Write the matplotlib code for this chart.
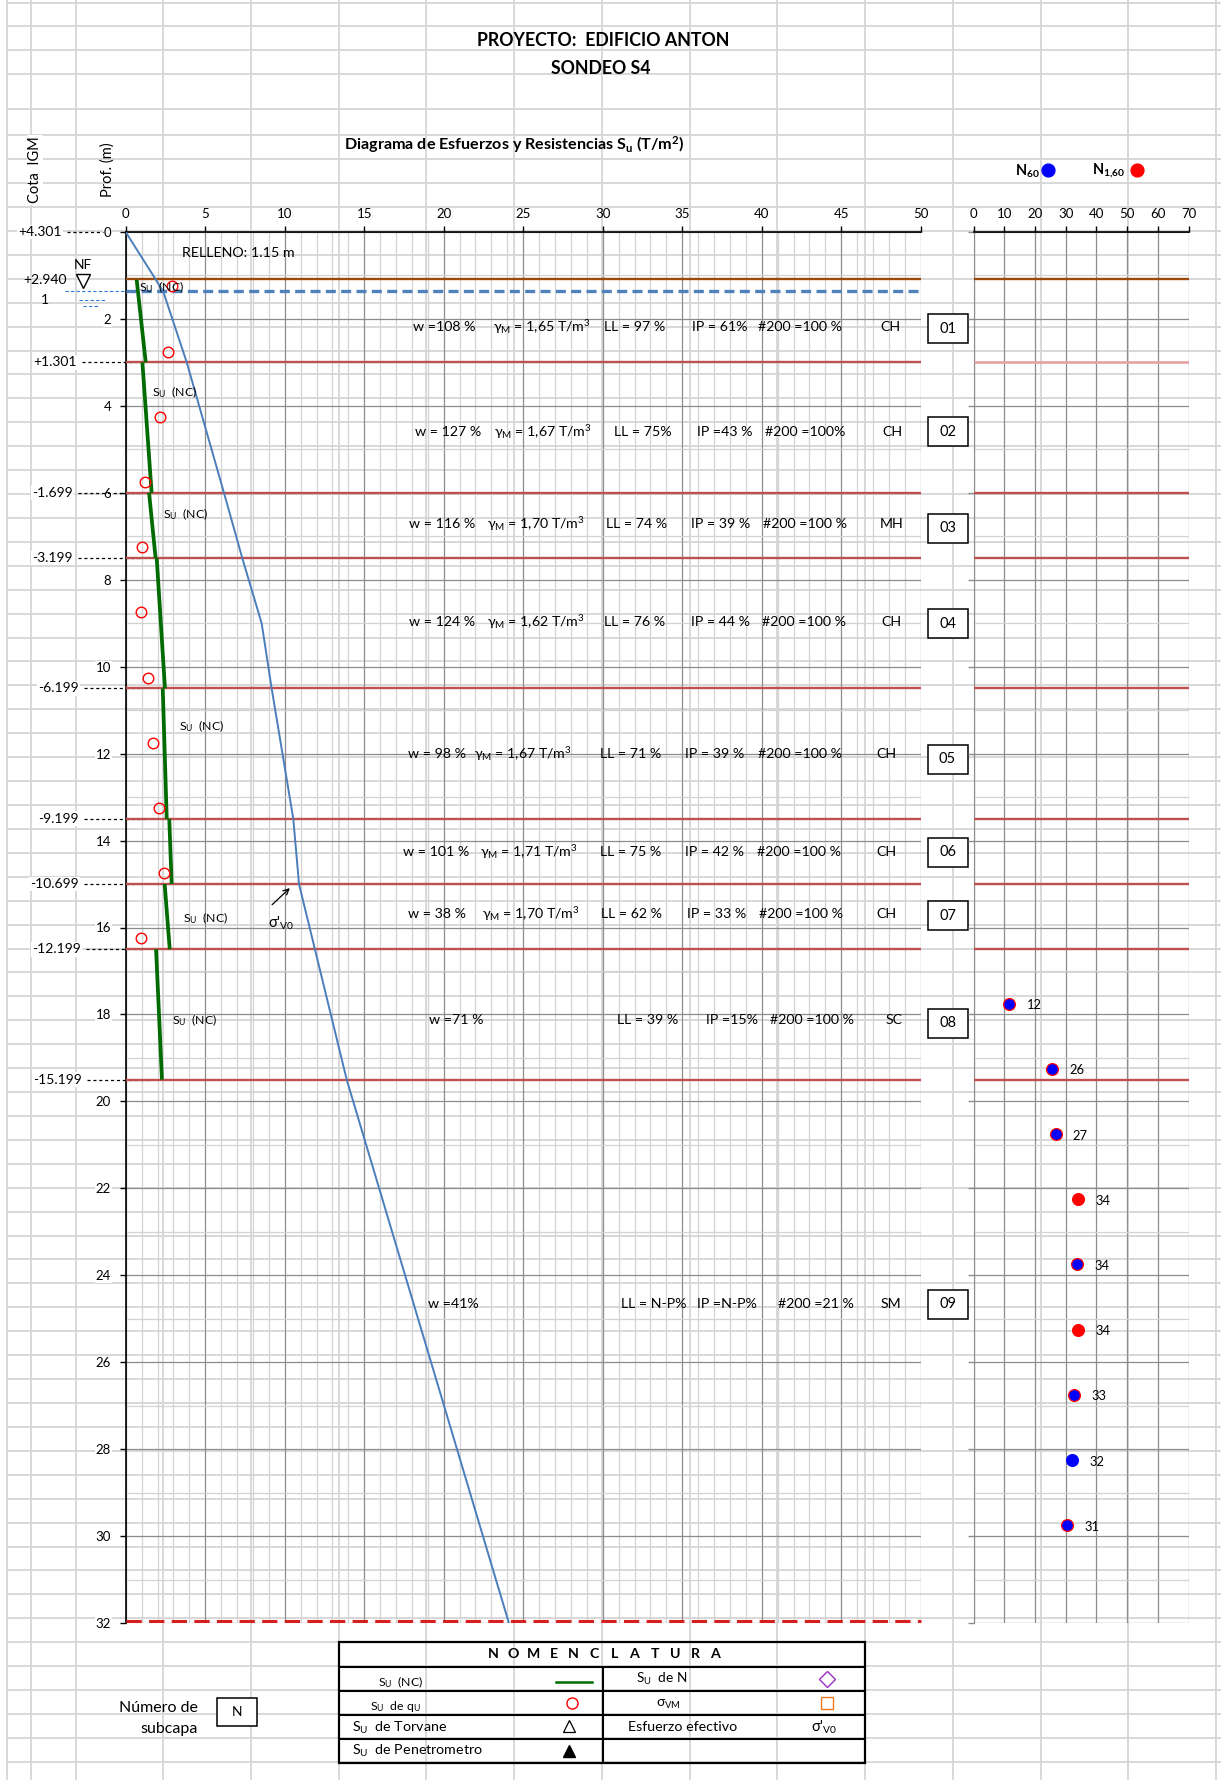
"""Sondeo S4 — diagrama de esfuerzos y resistencias Su + N SPT."""

import numpy as np
import matplotlib.pyplot as plt
import matplotlib.transforms as mtransforms
from matplotlib.patches import Rectangle

plt.rcParams['font.family'] = ['Lato', 'DejaVu Sans']
plt.rcParams['mathtext.fontset'] = 'custom'
plt.rcParams['mathtext.rm'] = 'Lato'
plt.rcParams['mathtext.it'] = 'Lato:italic'
plt.rcParams['mathtext.bf'] = 'Lato:bold'

# ---------------- data ----------------
COTA_TOP = 4.301          # cota IGM at depth 0
NF_DEPTH = 1.361          # nivel freatico
RELLENO_DEPTH = 1.07
END_DEPTH = 32.0

layer_bounds = [3.0, 6.0, 7.5, 10.5, 13.5, 15.0, 16.5, 19.5]
layer_ids = ['01', '02', '03', '04', '05', '06', '07', '08', '09']
layer_mid = [2.23, 4.59, 6.82, 9.01, 12.13, 14.27, 15.73, 18.2, 24.67]

# Su (NC) per layer: value at top and bottom of the layer (T/m2)
su_top_depth = [1.1, 3.0, 6.0, 7.5, 10.5, 13.5, 15.0, 16.5]
su_bot_depth = [3.0, 6.0, 7.5, 10.5, 13.5, 15.0, 16.5, 19.5]
su_top = [0.69, 1.05, 1.47, 1.95, 2.33, 2.74, 2.45, 1.91]
su_bot = [1.26, 1.63, 1.88, 2.47, 2.58, 2.89, 2.77, 2.28]

# Su from qu
qu_depth = [1.25, 2.75, 4.25, 5.75, 7.25, 8.75, 10.25, 11.75, 13.25, 14.75, 16.25]
qu_su = [2.93, 2.64, 2.16, 1.23, 1.05, 0.98, 1.38, 1.72, 2.07, 2.41, 0.98]

# effective vertical stress sigma'v0
sv_depth = [0, 1.07, 1.38, 3.0, 6.0, 7.5, 9.0, 10.5, 13.5, 15.0, 16.5, 19.5, 32.0]
sv_val = [0, 1.85, 2.37, 3.84, 6.18, 7.33, 8.55, 9.18, 10.54, 10.9, 11.9, 13.9, 24.1]

# SPT
spt_depth = [17.75, 19.25, 20.75, 22.25, 23.75, 25.25, 26.75, 28.25, 29.75]
spt_n = [11.7, 25.6, 26.7, 34.1, 33.8, 34.1, 32.7, 32.1, 30.6]
spt_series = ['N60', 'N60', 'N60', 'N160', 'N60', 'N160', 'N60', 'N60', 'N60']

# index properties per layer
prop_w = ['w =108 %', 'w = 127 %', 'w = 116 %', 'w = 124 %', 'w = 98 %',
          'w = 101 %', 'w = 38 %', 'w =71 %', 'w =41%']
prop_gamma = ['1,65', '1,67', '1,70', '1,62', '1,67', '1,71', '1,70', None, None]
prop_ll = ['LL = 97 %', 'LL = 75%', 'LL = 74 %', 'LL = 76 %', 'LL = 71 %',
           'LL = 75 %', 'LL = 62 %', 'LL = 39 %', 'LL = N-P%']
prop_ip = ['IP = 61%', 'IP =43 %', 'IP = 39 %', 'IP = 44 %', 'IP = 39 %',
           'IP = 42 %', 'IP = 33 %', 'IP =15%', 'IP =N-P%']
prop_200 = ['#200 =100 %', '#200 =100%', '#200 =100 %', '#200 =100 %', '#200 =100 %',
            '#200 =100 %', '#200 =100 %', '#200 =100 %', '#200 =21 %']
prop_sucs = ['CH', 'CH', 'MH', 'CH', 'CH', 'CH', 'CH', 'SC', 'SM']
prop_depth = [2.18, 4.6, 6.71, 8.97, 12.0, 14.26, 15.68, 18.13, 24.66]

W, H = 1221, 1780
GRID_SHEET = '#d6d6d6'
GRID_MAJ = '#8c8c8c'
GRID_MIN = '#d3d3d3'
RED_LAYER = '#c0504d'

fig = plt.figure(figsize=(W / 100, H / 100), dpi=100)

# background "spreadsheet" in pixel coordinates
bg = fig.add_axes([0, 0, 1, 1], zorder=0)
bg.set_xlim(0, W)
bg.set_ylim(H, 0)
bg.axis('off')
col_x = [7, 31, 76] + [163 + 87.75 * k for k in range(13)]
row_y = [3, 26, 50, 74, 109, 135, 159, 183] + [207 + 23.92 * k for k in range(66)]
bg.vlines(col_x, 0, H, color=GRID_SHEET, lw=1.3)
bg.hlines(row_y, 7, W, color=GRID_SHEET, lw=1.3)
for x0, y0, x1, y1 in [(252, 27, 951.5, 108), (77, 110, 951.5, 158), (954, 110, W, 158),
                       (77, 184, 951.5, 1640), (77, 192, 1214, 1640), (340, 1643, 864, 1666)]:
    bg.add_patch(Rectangle((x0, y0), x1 - x0, y1 - y0, fc='white', ec='none', zorder=1))

bg.text(603, 41, 'PROYECTO:  EDIFICIO ANTON', ha='center', va='center',
        fontsize=12.8, fontweight='bold', zorder=3)
bg.text(601, 68, 'SONDEO S4', ha='center', va='center', fontsize=12.8,
        fontweight='bold', zorder=3)
bg.text(514, 145, r'Diagrama de Esfuerzos y Resistencias S$_\mathregular{u}$ (T/m$^\mathregular{2}$)',
        ha='center', va='center', fontsize=11.6, fontweight='bold', zorder=3)
bg.text(35, 170, 'Cota  IGM', rotation=90, ha='center', va='center', fontsize=10.5,
        zorder=3, bbox=dict(fc='white', ec='none', pad=1))
bg.text(108, 170, 'Prof. (m)', rotation=90, ha='center', va='center', fontsize=10.5, zorder=3)

# SPT legend
bg.text(1040, 171, r'N$_\mathregular{60}$', ha='right', va='center', fontsize=10.5,
        fontweight='bold', zorder=3)
bg.scatter([1048], [170], s=85, color='#0000ff', zorder=3)
bg.text(1125, 171, r'N$_\mathregular{1{,}60}$', ha='right', va='center', fontsize=10.5,
        fontweight='bold', zorder=3)
bg.scatter([1137], [170], s=85, color='#ff0000', zorder=3)

# ---------------- main diagram ----------------
ax_pos = [125.7 / W, 1 - 1623 / H, 795 / W, (1623 - 232) / H]
ax = fig.add_axes(ax_pos, zorder=2)
ax.patch.set_alpha(0)
ax.set_xlim(0, 50)
ax.set_ylim(END_DEPTH, 0)
ax.xaxis.set_ticks_position('top')
ax.set_xticks(np.arange(0, 51, 5))
ax.set_xticks(np.arange(0, 51, 1), minor=True)
ax.set_yticks(np.arange(0, 33, 2))
ax.set_yticks(np.arange(0, 33, 1), minor=True)
ax.grid(which='major', color=GRID_MAJ, lw=0.9)
ax.grid(which='minor', color=GRID_MIN, lw=0.9)
ax.set_axisbelow(True)
ax.tick_params(which='major', direction='out', length=4.5, width=1, labelsize=9.5)
ax.tick_params(axis='x', pad=4)
ax.tick_params(axis='y', pad=6)
ax.tick_params(which='minor', length=0)
for s in ['right', 'bottom']:
    ax.spines[s].set_visible(False)
for s in ['top', 'left']:
    ax.spines[s].set_linewidth(1.2)
for lbl in ax.get_yticklabels():
    lbl.set_bbox(dict(fc='white', ec='none', pad=0.5))

ax.hlines(layer_bounds, 0, 50, color=RED_LAYER, lw=1.7, zorder=3)
ax.axhline(RELLENO_DEPTH, color='#9c4a0c', lw=1.7, zorder=3)
ax.axhline(NF_DEPTH, color='#4f81bd', lw=2.4, dashes=(3, 1.6), zorder=3)
ax.axhline(END_DEPTH - 0.04, color='#d42020', lw=2.2, dashes=(5, 2.4), zorder=3, clip_on=False)

ax.plot(sv_val, sv_depth, color='#4a7ebb', lw=1.4, zorder=4)
for x0, x1, d0, d1 in zip(su_top, su_bot, su_top_depth, su_bot_depth):
    ax.plot([x0, x1], [d0, d1], color='#006b00', lw=2.7, solid_capstyle='butt', zorder=5)
ax.plot(qu_su, qu_depth, 'o', mfc='none', mec='#ff0000', ms=7.6, mew=1.0, zorder=6)

su_lbl = r'S$_\mathregular{U}$  (NC)'
for x, d in [(0.83, 1.27), (1.63, 3.69), (2.37, 6.49), (3.37, 11.38), (3.58, 15.78), (2.89, 18.13)]:
    ax.text(x, d, su_lbl, fontsize=8.8, va='center', ha='left', zorder=7)
ax.text(3.52, 0.49, 'RELLENO: 1.15 m', fontsize=10.3, va='center', ha='left', zorder=7)
ax.annotate('', xy=(10.45, 15.05), xytext=(9.08, 15.52),
            arrowprops=dict(arrowstyle='->', color='black', lw=0.9), zorder=7)
ax.text(8.95, 15.9, r"σ'$_\mathregular{V0}$", fontsize=10.5, va='center', ha='left', zorder=7)

# property text rows
col_w = [18.09, 18.2, 17.8, 17.8, 17.78, 17.44, 17.76, 19.1, 19.0]
col_g = [23.1, 23.15, 22.74, 22.74, 21.9, 22.3, 22.4, None, None]
col_ll = [30.07, 30.7, 30.2, 30.1, 29.85, 29.8, 29.9, 30.9, 31.15]
col_ip = [35.6, 35.9, 35.56, 35.55, 35.2, 35.2, 35.3, 36.5, 35.9]
col_200 = [39.77, 40.2, 40.1, 40.05, 39.77, 39.7, 39.8, 40.5, 41.0]
col_s = [47.48, 47.6, 47.4, 47.55, 47.2, 47.2, 47.2, 47.8, 47.5]
for i, d in enumerate(prop_depth):
    kw = dict(fontsize=10.2, va='center', ha='left', zorder=7)
    ax.text(col_w[i], d, prop_w[i], **kw)
    if prop_gamma[i] is not None:
        ax.text(col_g[i], d, r'γ$_\mathregular{M}$ = ' + prop_gamma[i] + r' T/m$^\mathregular{3}$', **kw)
    ax.text(col_ll[i], d, prop_ll[i], **kw)
    ax.text(col_ip[i], d, prop_ip[i], **kw)
    ax.text(col_200[i], d, prop_200[i], **kw)
    ax.text(col_s[i], d, prop_sucs[i], **kw)

# sub-layer number boxes (x in sheet pixels, y in depth)
trans = mtransforms.blended_transform_factory(bg.transData, ax.transData)


def depth_px(d):
    return bg.transData.inverted().transform(ax.transData.transform((0, d)))[1]


for lid, d in zip(layer_ids, layer_mid):
    y = depth_px(d)
    bg.add_patch(Rectangle((927.5, y - 14.5), 40, 29, fc='white', ec='black', lw=1.1, zorder=4))
    bg.text(947.5, y, lid, ha='center', va='center', fontsize=10.5, zorder=5)

# cota IGM labels with dashed leaders
cota_depth = [0.0] + layer_bounds
cota_right = [62, 77, 73, 73, 79, 79, 79, 81, 82]
cota_end = [103, 140, 140, 140, 142, 145, 138, 142, 150]
for d, xr, xe in zip(cota_depth, cota_right, cota_end):
    ax.text(xr, d, f'{COTA_TOP - d:+.3f}', transform=trans, ha='right', va='center',
            fontsize=10, zorder=8, bbox=dict(fc='white', ec='none', pad=1))
    ax.plot([xr + 5, xe], [d, d], transform=trans, color='black', lw=0.9,
            dashes=(2.5, 2.2), clip_on=False, zorder=2)

# water table symbol
ax.text(67, NF_DEPTH - 0.26, f'{COTA_TOP - NF_DEPTH:+.3f}', transform=trans, ha='right',
        va='center', fontsize=10, zorder=8)
ax.text(83, NF_DEPTH - 0.6, 'NF', transform=trans, ha='center', va='center', fontsize=10, zorder=8)
ax.plot([83], [NF_DEPTH - 0.24], transform=trans, marker='v', ms=10.5, mfc='white',
        mec='black', mew=1.0, clip_on=False, zorder=8)
ax.text(45, NF_DEPTH + 0.2, '1', transform=trans, ha='center', va='center', fontsize=10, zorder=8)
ax.plot([65, 126], [NF_DEPTH, NF_DEPTH], transform=trans, color='#2e7ad6', lw=0.8,
        dashes=(3, 2), clip_on=False, zorder=3)
ax.plot([79, 106], [NF_DEPTH + 0.2, NF_DEPTH + 0.2], transform=trans, color='#2e7ad6', lw=0.8,
        dashes=(3, 2), clip_on=False, zorder=3)
ax.plot([83, 99], [NF_DEPTH + 0.33, NF_DEPTH + 0.33], transform=trans, color='#2e7ad6', lw=0.8,
        dashes=(3, 2), clip_on=False, zorder=3)

# ---------------- SPT panel ----------------
rx = fig.add_axes([973.5 / W, ax_pos[1], 215 / W, ax_pos[3]], zorder=2)
rx.patch.set_alpha(0)
rx.set_xlim(0, 70)
rx.set_ylim(END_DEPTH, 0)
rx.xaxis.set_ticks_position('top')
rx.set_xticks(np.arange(0, 71, 10))
rx.set_yticks(np.arange(0, 33, 2))
rx.set_yticks(np.arange(0, 33, 1), minor=True)
rx.grid(which='major', color=GRID_MAJ, lw=0.9)
rx.grid(which='minor', axis='y', color=GRID_MIN, lw=0.9)
rx.set_axisbelow(True)
rx.tick_params(which='major', direction='out', length=4.5, width=1, labelsize=9.5, pad=4)
rx.tick_params(axis='y', labelleft=False, color=GRID_MAJ)
rx.tick_params(which='minor', length=0)
for s in ['right', 'bottom']:
    rx.spines[s].set_visible(False)
rx.spines['left'].set_color(GRID_MAJ)
rx.spines['top'].set_linewidth(1.2)

rx.hlines(layer_bounds[1:], 0, 70, color=RED_LAYER, lw=1.7, zorder=3)
rx.hlines([layer_bounds[0]], 0, 70, color='#e6a3a3', lw=1.9, zorder=3)
rx.axhline(RELLENO_DEPTH, color='#9c4a0c', lw=1.7, zorder=3)

spt_edge = ['#ff0000'] * 7 + ['#0000ff', '#ff0000']
for n, d, s, ec in zip(spt_n, spt_depth, spt_series, spt_edge):
    fc = '#0000ff' if s == 'N60' else '#ff0000'
    rx.scatter([n], [d], s=72, color=fc, edgecolors=ec, linewidths=0.9, zorder=5)
    rx.annotate(f'{round(n)}', (n, d), xytext=(12.5, -1.2), textcoords='offset points',
                va='center', ha='left', fontsize=9.3, zorder=6)

# ---------------- nomenclature ----------------
tx0, tx1, tmid = 339, 865, 602.6
trow = [1642, 1666.7, 1691, 1715, 1739, 1763]
bg.add_patch(Rectangle((tx0, trow[0]), tx1 - tx0, trow[-1] - trow[0], fc='none',
                       ec='black', lw=1.6, zorder=4))
bg.hlines(trow[1:-1], tx0, tx1, color='black', lw=1.5, zorder=4)
bg.vlines([tmid], trow[1], trow[-1], color='black', lw=1.5, zorder=4)
title_letters = 'NOMENCLATURA'
for k, ch in enumerate(title_letters):
    bg.text(493 + k * 20.2, 1654.5, ch, ha='center', va='center', fontsize=10.2,
            fontweight='bold', zorder=5)
rc = [(trow[i] + trow[i + 1]) / 2 for i in range(1, 5)]
bg.text(378, rc[0] + 3, r'S$_\mathregular{U}$  (NC)', ha='left', va='center', fontsize=8.8, zorder=5)
bg.plot([556, 592], [rc[0] + 3, rc[0] + 3], color='#006b00', lw=1.8, zorder=5)
bg.text(370, rc[1] + 3, r'S$_\mathregular{U}$  de q$_\mathregular{U}$', ha='left', va='center',
        fontsize=8.8, zorder=5)
bg.plot([572], [rc[1]], 'o', mfc='none', mec='#ff0000', ms=8, mew=1.0, zorder=5)
bg.text(352, rc[2] + 1, r'S$_\mathregular{U}$  de Torvane', ha='left', va='center', fontsize=10.3, zorder=5)
bg.plot([569], [rc[2] - 1], '^', mfc='none', mec='black', ms=8.5, mew=0.9, zorder=5)
bg.text(352, rc[3], r'S$_\mathregular{U}$  de Penetrometro', ha='left', va='center', fontsize=10.3, zorder=5)
bg.plot([569], [rc[3]], '^', color='black', ms=8.5, zorder=5)
bg.text(636, rc[0], r'S$_\mathregular{U}$  de N', ha='left', va='center', fontsize=9.8, zorder=5)
bg.plot([827], [rc[0]], 'D', mfc='none', mec='#9b30c8', ms=8, mew=1.0, zorder=5)
bg.text(656, rc[1] + 1, r'σ$_\mathregular{VM}$', ha='left', va='center', fontsize=9.8, zorder=5)
bg.plot([827], [rc[1]], 's', mfc='none', mec='#f07a20', ms=9, mew=1.0, zorder=5)
bg.text(628, rc[2], 'Esfuerzo efectivo', ha='left', va='center', fontsize=10.3, zorder=5)
bg.text(811, rc[2], r"σ'$_\mathregular{V0}$", ha='left', va='center', fontsize=10.5, zorder=5)

bg.text(198, 1707.7, 'Número de', ha='right', va='center', fontsize=11.5, zorder=5)
bg.text(198, 1729, 'subcapa', ha='right', va='center', fontsize=11.5, zorder=5)
bg.add_patch(Rectangle((217.3, 1697.7), 40, 28, fc='white', ec='black', lw=1.1, zorder=4))
bg.text(237.3, 1711.7, 'N', ha='center', va='center', fontsize=10, zorder=5)

fig.savefig('out.png', dpi=100)
